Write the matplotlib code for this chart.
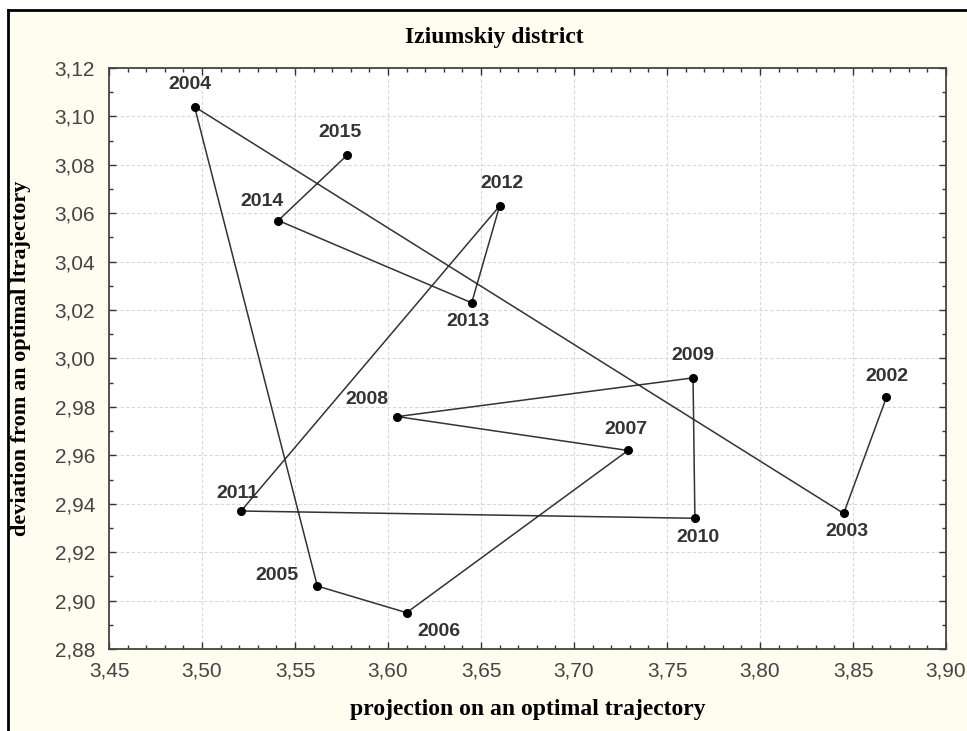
import matplotlib.pyplot as plt
from matplotlib.ticker import MultipleLocator, FuncFormatter
from matplotlib.patches import Rectangle

# data
years = [2002, 2003, 2004, 2005, 2006, 2007, 2008, 2009, 2010, 2011, 2012, 2013, 2014, 2015]
proj = [3.868, 3.845, 3.496, 3.562, 3.610, 3.729, 3.605, 3.764, 3.765, 3.521, 3.660, 3.645, 3.541, 3.578]
dev = [2.984, 2.936, 3.104, 2.906, 2.895, 2.962, 2.976, 2.992, 2.934, 2.937, 3.063, 3.023, 3.057, 3.084]

# label offsets in pixels (dx, dy)
offs = {2002: (0, 21), 2003: (3, -18), 2004: (-5, 22), 2005: (-40, 11), 2006: (32, -19),
        2007: (-2, 21), 2008: (-30, 17), 2009: (0, 22), 2010: (3, -19), 2011: (-4, 18),
        2012: (2, 22), 2013: (-4, -19), 2014: (-16, 19), 2015: (-7, 23)}

bg = '#fffcf0'
fig = plt.figure(figsize=(9.67, 7.31), dpi=100)
fig.patch.set_facecolor('white')
# cream panel with black frame (top and left)
fig.patches.append(Rectangle((8/967, 0), 1, 1 - 10/731, transform=fig.transFigure,
                             facecolor=bg, edgecolor='none', zorder=-10))
fig.lines.append(plt.Line2D([8/967, 8/967], [0, 1 - 10/731], transform=fig.transFigure, color='black', lw=2))
fig.lines.append(plt.Line2D([8/967, 1], [1 - 10/731, 1 - 10/731], transform=fig.transFigure, color='black', lw=2))

ax = fig.add_axes([109/967, 1 - 649/731, (946 - 109)/967, (649 - 68)/731])
ax.set_facecolor('white')

ax.plot(proj, dev, '-', color='#333333', lw=1.1, zorder=2)
ax.plot(proj, dev, 'o', color='black', ms=5.5, zorder=3)
for y, px, py in zip(years, proj, dev):
    ax.annotate(str(y), (px, py), xytext=offs[y], textcoords='offset pixels',
                ha='center', va='center', fontsize=14, fontweight='bold',
                color='#333333', family='Liberation Sans')

ax.set_xlim(3.45, 3.90)
ax.set_ylim(2.88, 3.12)
ax.xaxis.set_major_locator(MultipleLocator(0.05))
ax.xaxis.set_minor_locator(MultipleLocator(0.01))
ax.yaxis.set_major_locator(MultipleLocator(0.02))
ax.yaxis.set_minor_locator(MultipleLocator(0.01))
comma = FuncFormatter(lambda v, p: f'{v:.2f}'.replace('.', ','))
ax.xaxis.set_major_formatter(comma)
ax.yaxis.set_major_formatter(comma)
ax.tick_params(which='both', direction='in', top=True, right=True, colors='#333333',
               labelsize=15, labelcolor='#444444', width=1)
ax.tick_params(which='major', length=5)
ax.tick_params(which='minor', length=3)
ax.tick_params(axis='x', pad=9)
ax.tick_params(axis='y', pad=10)
for lab in ax.get_xticklabels() + ax.get_yticklabels():
    lab.set_family('Liberation Sans')
ax.grid(True, which='major', linestyle=(0, (3, 2)), color='#d8d8d8', lw=0.8)
for s in ax.spines.values():
    s.set_color('#444444')
    s.set_linewidth(1.3)

fig.text(494/967, 1 - 37/731, 'Iziumskiy district', ha='center', va='center',
         fontsize=17, fontweight='bold', family='Liberation Serif')
ax.set_xlabel('projection on an optimal trajectory', fontsize=17, fontweight='bold',
              family='Liberation Serif')
ax.set_ylabel('deviation from an optimal ltrajectory', fontsize=16, fontweight='bold',
              family='Liberation Serif')
ax.xaxis.set_label_coords(0.5, (649 - 710) / 581)
ax.yaxis.set_label_coords((21 - 109) / 837, 0.5)
ax.xaxis.label.set_va('center')
ax.yaxis.label.set_va('center')

fig.savefig('out.png', dpi=100, facecolor=fig.get_facecolor())
